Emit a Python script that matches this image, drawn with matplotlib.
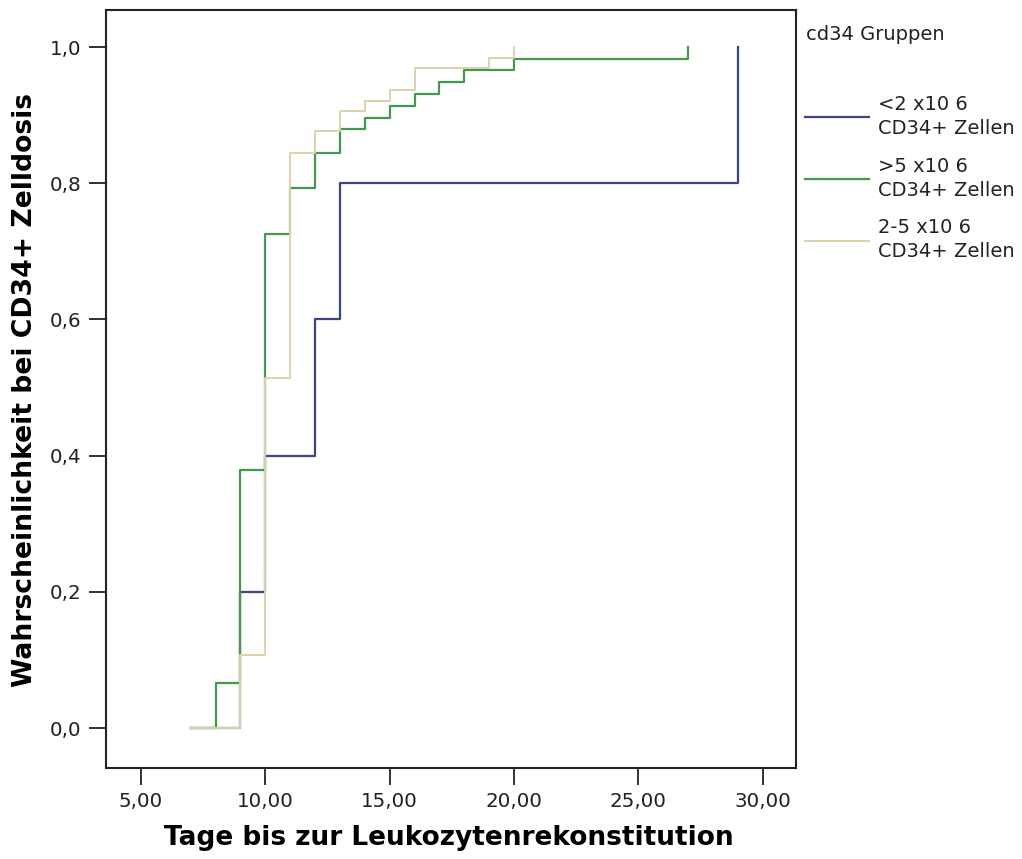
import matplotlib
matplotlib.use("Agg")
import matplotlib.pyplot as plt
from matplotlib.ticker import FuncFormatter

# Tage / kumulative Wahrscheinlichkeit je Gruppe (Treppenkurven)
tage_lt2 = [7, 9, 10, 12, 13, 29]
wahr_lt2 = [0.0, 0.2, 0.4, 0.6, 0.8, 1.0]

tage_gt5 = [7, 8, 9, 10, 11, 12, 13, 14, 15, 16, 17, 18, 20, 27]
wahr_gt5 = [0.0, 0.066, 0.379, 0.725, 0.793, 0.844, 0.879, 0.896, 0.914,
            0.931, 0.948, 0.966, 0.983, 1.0]

tage_2_5 = [7, 9, 10, 11, 12, 13, 14, 15, 16, 19, 20]
wahr_2_5 = [0.0, 0.107, 0.514, 0.844, 0.877, 0.906, 0.921, 0.937, 0.969,
            0.984, 1.0]

labels = ["<2 x10 6\nCD34+ Zellen", ">5 x10 6\nCD34+ Zellen", "2-5 x10 6\nCD34+ Zellen"]
farben = ["#3d4383", "#42984c", "#ddd3aa"]

xticks = [5, 10, 15, 20, 25, 30]
yticks = [0.0, 0.2, 0.4, 0.6, 0.8, 1.0]

fig = plt.figure(figsize=(10.22, 8.59), dpi=100)
ax = fig.add_axes([0.1037, 0.1059, 0.6751, 0.8824])

l1, = ax.step(tage_lt2, wahr_lt2, where="post", color=farben[0], lw=1.6)
l2, = ax.step(tage_gt5, wahr_gt5, where="post", color=farben[1], lw=1.6)
l3, = ax.step(tage_2_5, wahr_2_5, where="post", color=farben[2], lw=1.4)

ax.set_xlim(3.593, 31.33)
ax.set_ylim(-0.0587, 1.0543)
ax.set_xticks(xticks)
ax.set_yticks(yticks)
ax.xaxis.set_major_formatter(FuncFormatter(lambda v, p: f"{v:.2f}".replace(".", ",")))
ax.yaxis.set_major_formatter(FuncFormatter(lambda v, p: f"{v:.1f}".replace(".", ",")))
ax.tick_params(length=12, width=1.3, labelsize=14.3, color="#222222",
               labelcolor="#222222", pad=5.5)
for s in ax.spines.values():
    s.set_linewidth(1.5)
    s.set_color("#222222")

fig.text(449 / 1022, 1 - 845 / 859, "Tage bis zur Leukozytenrekonstitution",
         ha="center", va="baseline", fontsize=19, fontweight="bold")
fig.text(25 / 1022, 1 - 390 / 859, "Wahrscheinlichkeit bei CD34+ Zelldosis",
         ha="center", va="center", rotation=90, fontsize=19.2,
         fontweight="bold")

fig.text(806 / 1022, 1 - 35 / 859, "cd34 Gruppen", ha="left", va="center",
         fontsize=14, color="#222222")
leg = fig.legend([l1, l2, l3], labels, loc="upper left",
                 bbox_to_anchor=(797 / 1022, 1 - 87 / 859), frameon=False,
                 fontsize=14, handlelength=3.3, handletextpad=0.45,
                 labelspacing=0.95, borderaxespad=0)
for t in leg.get_texts():
    t.set_color("#222222")
    t.set_linespacing(1.35)

fig.savefig("out.png", dpi=100)
